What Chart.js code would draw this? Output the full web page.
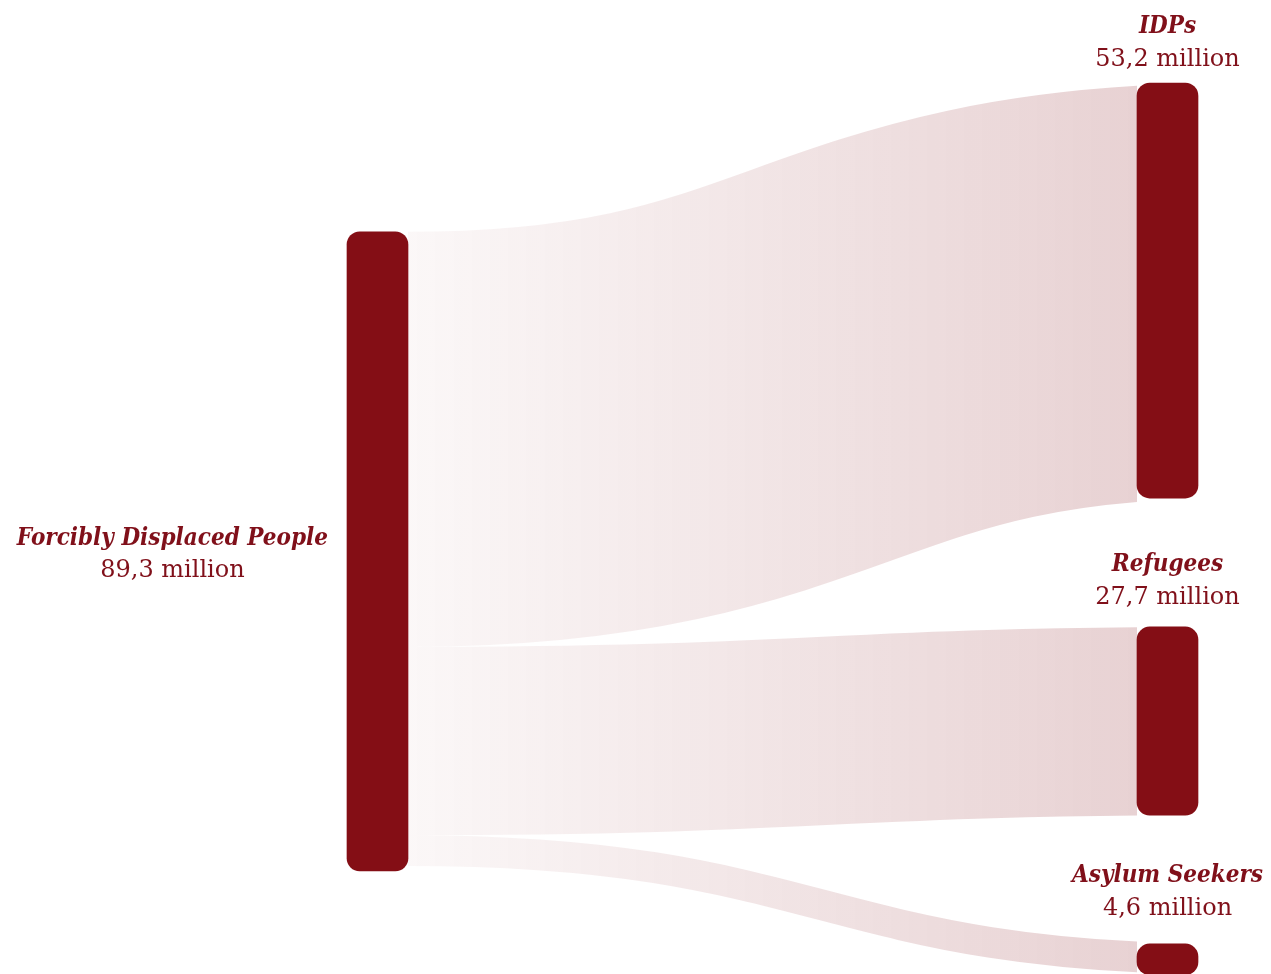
<!DOCTYPE html>
<html>
<head>
<meta charset="utf-8">
<script src="https://cdn.jsdelivr.net/npm/chart.js@4"></script>
<style>
  html, body { margin: 0; padding: 0; background: #fff; }
  canvas { display: block; }
</style>
</head>
<body>
<canvas id="sankeyChart" width="1271" height="974"></canvas>
<script>
// source node
const sourceName = 'Forcibly Displaced People';
const sourceLabel = '89,3 million';
const sourceTotal = 89.3;

// target nodes
const targetNames = ['IDPs', 'Refugees', 'Asylum Seekers'];
const targetLabels = ['53,2 million', '27,7 million', '4,6 million'];
// band thickness of each flow as drawn (same units as sourceTotal)
const flowValues = [58.0, 26.3, 4.3];

// layout (in the y-scale units)
const yMax = 136.1;
const sourceTop = 32.4;
const targetTop = 11.6;
const targetGap = 18.0;

const nodeColor = '#840e15';
const textColor = '#80101a';

// node spans
const sourceSpan = [sourceTop, sourceTop + sourceTotal];
const targetSpans = [];
let t = targetTop;
flowValues.forEach(v => {
  targetSpans.push([t, t + v]);
  t += v + targetGap;
});

const nodeData = [{ x: 0, y: sourceSpan }].concat(targetSpans.map(s => ({ x: 1, y: s })));

const flowPlugin = {
  id: 'flows',
  beforeDatasetsDraw(chart) {
    const ctx = chart.ctx;
    const xs = chart.scales.x;
    const ys = chart.scales.y;
    const half = 30.5;
    const x0 = xs.getPixelForValue(0) + half;
    const x1 = xs.getPixelForValue(1) - half;
    // the band's centre line runs on under the target node and is cut at its edge
    const xEnd = xs.getPixelForValue(1) + half + 38;
    const xm = (x0 + xEnd) / 2;
    const grad = ctx.createLinearGradient(x0, 0, x1, 0);
    grad.addColorStop(0, 'rgba(132,14,21,0.03)');
    grad.addColorStop(1, 'rgba(132,14,21,0.19)');
    let s = sourceTop;
    ctx.save();
    ctx.beginPath();
    ctx.rect(x0, 0, x1 - x0, chart.height);
    ctx.clip();
    flowValues.forEach((v, i) => {
      const sa = ys.getPixelForValue(s);
      const sb = ys.getPixelForValue(s + v);
      const ta = ys.getPixelForValue(targetSpans[i][0]);
      const tb = ys.getPixelForValue(targetSpans[i][1]);
      const y0 = (sa + sb) / 2;
      const y1 = (ta + tb) / 2;
      ctx.beginPath();
      ctx.moveTo(x0, y0);
      ctx.bezierCurveTo(xm, y0, xm, y1, xEnd, y1);
      ctx.lineWidth = Math.abs(sb - sa);
      ctx.lineCap = 'butt';
      ctx.strokeStyle = grad;
      ctx.stroke();
      s += v;
    });
    ctx.restore();
  },
  afterDatasetsDraw(chart) {
    const ctx = chart.ctx;
    const xs = chart.scales.x;
    const ys = chart.scales.y;
    const boldFont = 'italic bold 24px "DejaVu Serif Condensed", "DejaVu Serif", serif';
    const regFont = '24px "DejaVu Serif", serif';
    ctx.save();
    ctx.fillStyle = textColor;
    ctx.textAlign = 'center';
    ctx.textBaseline = 'middle';

    // source label, left of the node
    ctx.font = boldFont;
    const w = ctx.measureText(sourceName).width;
    const cx = xs.getPixelForValue(0) - 30.5 - 19 - w / 2;
    const cy = (ys.getPixelForValue(sourceSpan[0]) + ys.getPixelForValue(sourceSpan[1])) / 2;
    ctx.fillText(sourceName, cx, cy - 13);
    ctx.font = regFont;
    ctx.fillText(sourceLabel, cx, cy + 19);

    // target labels, above each node
    const tx = xs.getPixelForValue(1);
    targetSpans.forEach((span, i) => {
      const top = ys.getPixelForValue(span[0]);
      const shift = 6 * (i - 1);
      ctx.font = boldFont;
      ctx.fillText(targetNames[i], tx, top - 62 - shift);
      ctx.font = regFont;
      ctx.fillText(targetLabels[i], tx, top - 29 - shift);
    });
    ctx.restore();
  }
};

const ctx = document.getElementById('sankeyChart').getContext('2d');
new Chart(ctx, {
  type: 'bar',
  data: {
    datasets: [{
      data: nodeData,
      backgroundColor: nodeColor,
      borderWidth: 0,
      borderRadius: 13,
      borderSkipped: false,
      barThickness: 61
    }]
  },
  options: {
    responsive: false,
    animation: false,
    events: [],
    layout: { padding: 0 },
    plugins: {
      legend: { display: false },
      tooltip: { enabled: false }
    },
    scales: {
      x: {
        type: 'linear',
        display: false,
        offset: false,
        min: -377.5 / 790,
        max: (1271 - 377.5) / 790
      },
      y: {
        display: false,
        reverse: true,
        min: 0,
        max: yMax
      }
    }
  },
  plugins: [flowPlugin]
});
</script>
</body>
</html>
